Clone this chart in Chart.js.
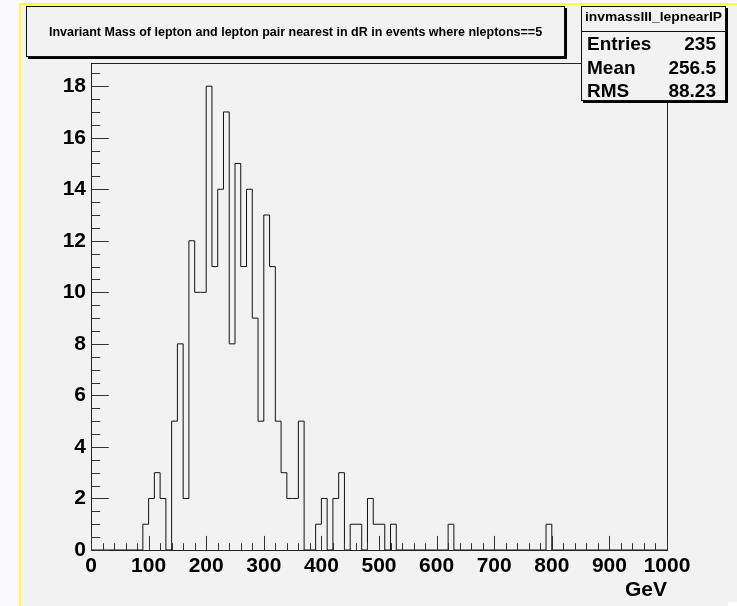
<!DOCTYPE html>
<html><head><meta charset="utf-8">
<script src="https://cdn.jsdelivr.net/npm/chart.js@4.4.0/dist/chart.umd.min.js"></script>
<style>html,body{margin:0;padding:0;background:#fafafc;overflow:hidden}canvas{display:block}</style>
</head><body>
<canvas id="c" width="737" height="606"></canvas>
<script>
// ---- data ----
const X_MIN = 0, X_MAX = 1000, BIN_WIDTH = 10;
const Y_MAX = 18.9;
// entries per 10 GeV bin, from 0 to 1000 GeV
const counts = [
  0, 0, 0, 0, 0, 0, 0, 0, 0, 1,        // 0-100
  2, 3, 2, 0, 5, 8, 2, 12, 10, 10,     // 100-200
  18, 11, 14, 17, 8, 15, 11, 14, 9, 5, // 200-300
  13, 11, 5, 3, 2, 2, 5, 0, 0, 1,      // 300-400
  2, 0, 2, 3, 0, 1, 1, 0, 2, 1,        // 400-500
  1, 0, 1, 0, 0, 0, 0, 0, 0, 0,        // 500-600
  0, 0, 1, 0, 0, 0, 0, 0, 0, 0,        // 600-700
  0, 0, 0, 0, 0, 0, 0, 0, 0, 1,        // 700-800
  0, 0, 0, 0, 0, 0, 0, 0, 0, 0,        // 800-900
  0, 0, 0, 0, 0, 0, 0, 0, 0, 0         // 900-1000
];
const titleText = 'Invariant Mass of lepton and lepton pair nearest in dR in events where nleptons==5';
const xTitle = 'GeV';
const statsName = 'invmassIII_lepnearIP';
const statsLabels = ['Entries', 'Mean', 'RMS'];
const statsValues = ['235', '256.5', '88.23'];

// ---- build histogram outline points (bin lower edges + closing edge) ----
const binLow = counts.map((_, i) => X_MIN + i * BIN_WIDTH);
const points = binLow.map((x, i) => ({ x: x, y: counts[i] }));
points.push({ x: X_MAX, y: counts[counts.length - 1] });

const FONT = '"Liberation Sans", Arial, Helvetica, sans-serif';

const background = {
  id: 'background',
  beforeDraw(chart) {
    const ctx = chart.ctx;
    ctx.save();
    ctx.fillStyle = '#fafafc';
    ctx.fillRect(0, 0, chart.width, chart.height);
    ctx.fillStyle = '#ffff3a';
    ctx.fillRect(19, 3, chart.width - 19, chart.height - 3);
    ctx.fillStyle = '#f2f2f2';
    ctx.fillRect(21, 5, chart.width - 21, chart.height - 5);
    ctx.fillStyle = '#ffffff';
    ctx.fillRect(728, 602, 9, 4);
    ctx.restore();
  }
};

const frameTicks = {
  id: 'frameTicks',
  afterDatasetsDraw(chart) {
    const { ctx, chartArea: a, scales: { x, y } } = chart;
    ctx.save();
    ctx.strokeStyle = '#222';
    ctx.lineWidth = 1;
    const L = Math.round(a.left) + 0.5, T = Math.round(a.top) + 0.5;
    const R = Math.round(a.right) + 0.5, B = Math.round(a.bottom) + 0.5;
    ctx.strokeRect(L, T, R - L, B - T);
    ctx.strokeStyle = '#333';
    ctx.beginPath();
    for (let k = 0; X_MIN + k * 20 <= X_MAX; k++) {
      const v = X_MIN + k * 20;
      const px = Math.round(x.getPixelForValue(v)) + 0.5;
      const len = (k % 5 === 0) ? 14.6 : 7.3;
      ctx.moveTo(px, B); ctx.lineTo(px, B - len);
    }
    for (let k = 0; k * 0.5 <= Y_MAX; k++) {
      const v = k * 0.5;
      const py = Math.round(y.getPixelForValue(v)) + 0.5;
      const len = (k % 4 === 0) ? 17.3 : 8.7;
      ctx.moveTo(L, py); ctx.lineTo(L + len, py);
    }
    ctx.stroke();
    ctx.restore();
  }
};

function drawBox(ctx, x, y, w, h) {
  ctx.fillStyle = '#000';
  ctx.fillRect(x + 2, y + 2, w, h);
  ctx.fillStyle = '#f2f2f2';
  ctx.fillRect(x, y, w, h);
  ctx.strokeStyle = '#111';
  ctx.lineWidth = 1;
  ctx.strokeRect(x + 0.5, y + 0.5, w - 1, h - 1);
}

const boxes = {
  id: 'boxes',
  afterDraw(chart) {
    const ctx = chart.ctx;
    ctx.save();
    // title pave
    drawBox(ctx, 26, 6, 539, 51);
    ctx.fillStyle = '#000';
    ctx.font = 'bold 12.5px ' + FONT;
    ctx.textAlign = 'center';
    ctx.textBaseline = 'alphabetic';
    ctx.fillText(titleText, 295.5, 36);
    // stats box
    drawBox(ctx, 581, 6, 145, 95);
    ctx.beginPath();
    ctx.moveTo(581, 31.5); ctx.lineTo(726, 31.5);
    ctx.stroke();
    ctx.fillStyle = '#000';
    ctx.textBaseline = 'alphabetic';
    ctx.font = 'bold 12px ' + FONT;
    const w = ctx.measureText(statsName).width;
    ctx.save();
    ctx.translate(653.5, 21);
    ctx.scale(137 / w, 1);
    ctx.textAlign = 'center';
    ctx.fillText(statsName, 0, 0);
    ctx.restore();
    ctx.fillStyle = '#000';
    ctx.font = 'bold 19px ' + FONT;
    const baselines = [49.5, 74, 97];
    statsLabels.forEach((lab, i) => {
      ctx.textAlign = 'left';
      ctx.fillText(lab, 587, baselines[i]);
      ctx.textAlign = 'right';
      ctx.fillText(statsValues[i], 716, baselines[i]);
    });
    ctx.restore();
  }
};

new Chart(document.getElementById('c'), {
  type: 'line',
  data: {
    datasets: [{
      data: points,
      stepped: true,
      borderColor: '#111',
      borderWidth: 1,
      pointRadius: 0,
      fill: false,
      tension: 0
    }]
  },
  options: {
    responsive: false,
    animation: false,
    devicePixelRatio: 1,
    layout: { padding: { left: 0, top: 63, right: 70, bottom: 0 } },
    plugins: { legend: { display: false }, tooltip: { enabled: false } },
    scales: {
      x: {
        type: 'linear', min: X_MIN, max: X_MAX,
        grid: { display: false, drawTicks: false },
        border: { display: false },
        ticks: {
          stepSize: 100, includeBounds: false, color: '#000', padding: 4,
          maxRotation: 0, autoSkip: false,
          font: { family: FONT, size: 21, weight: 'bold' },
          callback: (v) => String(v)
        },
        title: {
          display: true, text: xTitle, align: 'end', color: '#000',
          padding: { top: 0, bottom: 3 },
          font: { family: FONT, size: 21, weight: 'bold' }
        },
        afterFit(scale) { scale.height = 56; }
      },
      y: {
        type: 'linear', min: 0, max: Y_MAX,
        grid: { display: false, drawTicks: false },
        border: { display: false },
        ticks: {
          stepSize: 2, includeBounds: false, color: '#000', padding: 5,
          font: { family: FONT, size: 21, weight: 'bold' },
          callback: (v) => String(v)
        },
        afterFit(scale) { scale.width = 91; }
      }
    }
  },
  plugins: [background, frameTicks, boxes]
});
</script>
</body></html>
